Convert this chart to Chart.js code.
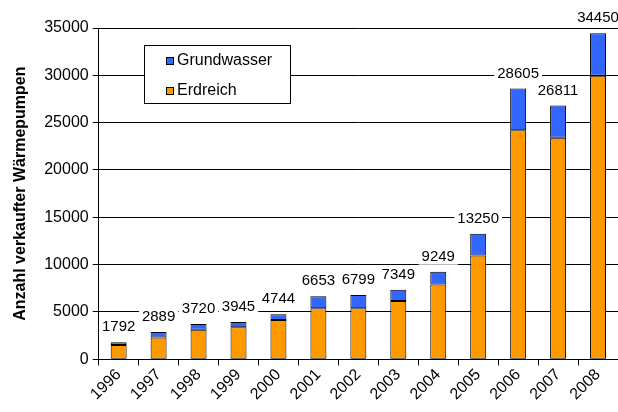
<!DOCTYPE html>
<html>
<head>
<meta charset="utf-8">
<script src="https://cdn.jsdelivr.net/npm/chart.js@4"></script>
<style>
    html, body { margin: 0; padding: 0; background: #fff; }
    #chartBox { width: 618px; height: 412px; }
</style>
</head>
<body>
<div id="chartBox"><canvas id="pumpChart"></canvas></div>
<script>
const years = ['1996', '1997', '1998', '1999', '2000', '2001', '2002', '2003', '2004', '2005', '2006', '2007', '2008'];
const erdreich = [1500, 2290, 3120, 3380, 4140, 5390, 5380, 6150, 7900, 10950, 24200, 23400, 29950];
const grundwasser = [292, 599, 600, 565, 604, 1263, 1419, 1199, 1349, 2300, 4405, 3411, 4500];
const yTicks = [0, 5000, 10000, 15000, 20000, 25000, 30000, 35000];

const FONT = 'Liberation Sans, Arial, sans-serif';

// totals above each bar, white box breaks the grid lines
const totalLabels = {
    id: 'totalLabels',
    afterDatasetsDraw(chart) {
        const ctx = chart.ctx;
        const meta = chart.getDatasetMeta(1);
        ctx.save();
        ctx.font = '15px ' + FONT;
        ctx.textAlign = 'center';
        ctx.textBaseline = 'middle';
        meta.data.forEach((bar, i) => {
            const total = erdreich[i] + grundwasser[i];
            const txt = String(total);
            const w = ctx.measureText(txt).width;
            const y = bar.y - 15;
            ctx.fillStyle = '#fff';
            ctx.fillRect(bar.x - w / 2 - 3, y - 8, w + 6, 16);
            ctx.fillStyle = '#000';
            ctx.fillText(txt, bar.x, y);
        });
        ctx.restore();
    }
};

// legend box inside the plot
const boxLegend = {
    id: 'boxLegend',
    afterDraw(chart) {
        const ctx = chart.ctx;
        const items = [chart.data.datasets[1], chart.data.datasets[0]];
        ctx.save();
        ctx.fillStyle = '#fff';
        ctx.fillRect(144, 45, 146, 58);
        ctx.strokeStyle = '#000';
        ctx.lineWidth = 1;
        ctx.strokeRect(144.5, 45.5, 146, 58);
        ctx.font = '16px ' + FONT;
        ctx.textBaseline = 'middle';
        items.forEach((ds, i) => {
            const y = 61 + i * 30;
            ctx.fillStyle = ds.backgroundColor;
            ctx.fillRect(166, y - 4, 7, 7);
            ctx.strokeRect(166.5, y - 3.5, 7, 7);
            ctx.fillStyle = '#000';
            ctx.fillText(ds.label, 177, y);
        });
        ctx.restore();
    }
};

const ctx = document.getElementById('pumpChart').getContext('2d');
const pumpChart = new Chart(ctx, {
    type: 'bar',
    data: {
        labels: years,
        datasets: [{
            label: 'Erdreich',
            data: erdreich,
            backgroundColor: '#FF9900',
            borderColor: '#000',
            borderWidth: 1,
            borderSkipped: false,
            inflateAmount: 0
        }, {
            label: 'Grundwasser',
            data: grundwasser,
            backgroundColor: '#3366FF',
            borderColor: '#000',
            borderWidth: 1,
            borderSkipped: false,
            inflateAmount: 0
        }]
    },
    options: {
        responsive: true,
        maintainAspectRatio: false,
        animation: false,
        layout: {
            padding: { top: 28, right: 0, left: 11, bottom: 8 }
        },
        datasets: {
            bar: { barPercentage: 0.4, categoryPercentage: 1 }
        },
        scales: {
            x: {
                stacked: true,
                grid: {
                    offset: true,
                    drawOnChartArea: false,
                    color: '#000',
                    tickLength: 6
                },
                border: { color: '#000' },
                ticks: {
                    color: '#000',
                    font: { family: FONT, size: 16 },
                    minRotation: 45,
                    maxRotation: 45,
                    padding: 0
                }
            },
            y: {
                stacked: true,
                min: 0,
                max: 35000,
                afterBuildTicks: axis => {
                    axis.ticks = yTicks.map(v => ({ value: v }));
                },
                grid: {
                    color: '#000',
                    tickLength: 6
                },
                border: { color: '#000' },
                ticks: {
                    color: '#000',
                    font: { family: FONT, size: 16 },
                    padding: 4,
                    callback: v => String(v)
                },
                title: {
                    display: true,
                    text: 'Anzahl verkaufter Wärmepumpen',
                    color: '#000',
                    font: { family: FONT, size: 16, weight: 'bold' },
                    padding: { top: 0, bottom: 10 }
                }
            }
        },
        plugins: {
            legend: { display: false },
            tooltip: { enabled: false }
        }
    },
    plugins: [totalLabels, boxLegend]
});
</script>
</body>
</html>
